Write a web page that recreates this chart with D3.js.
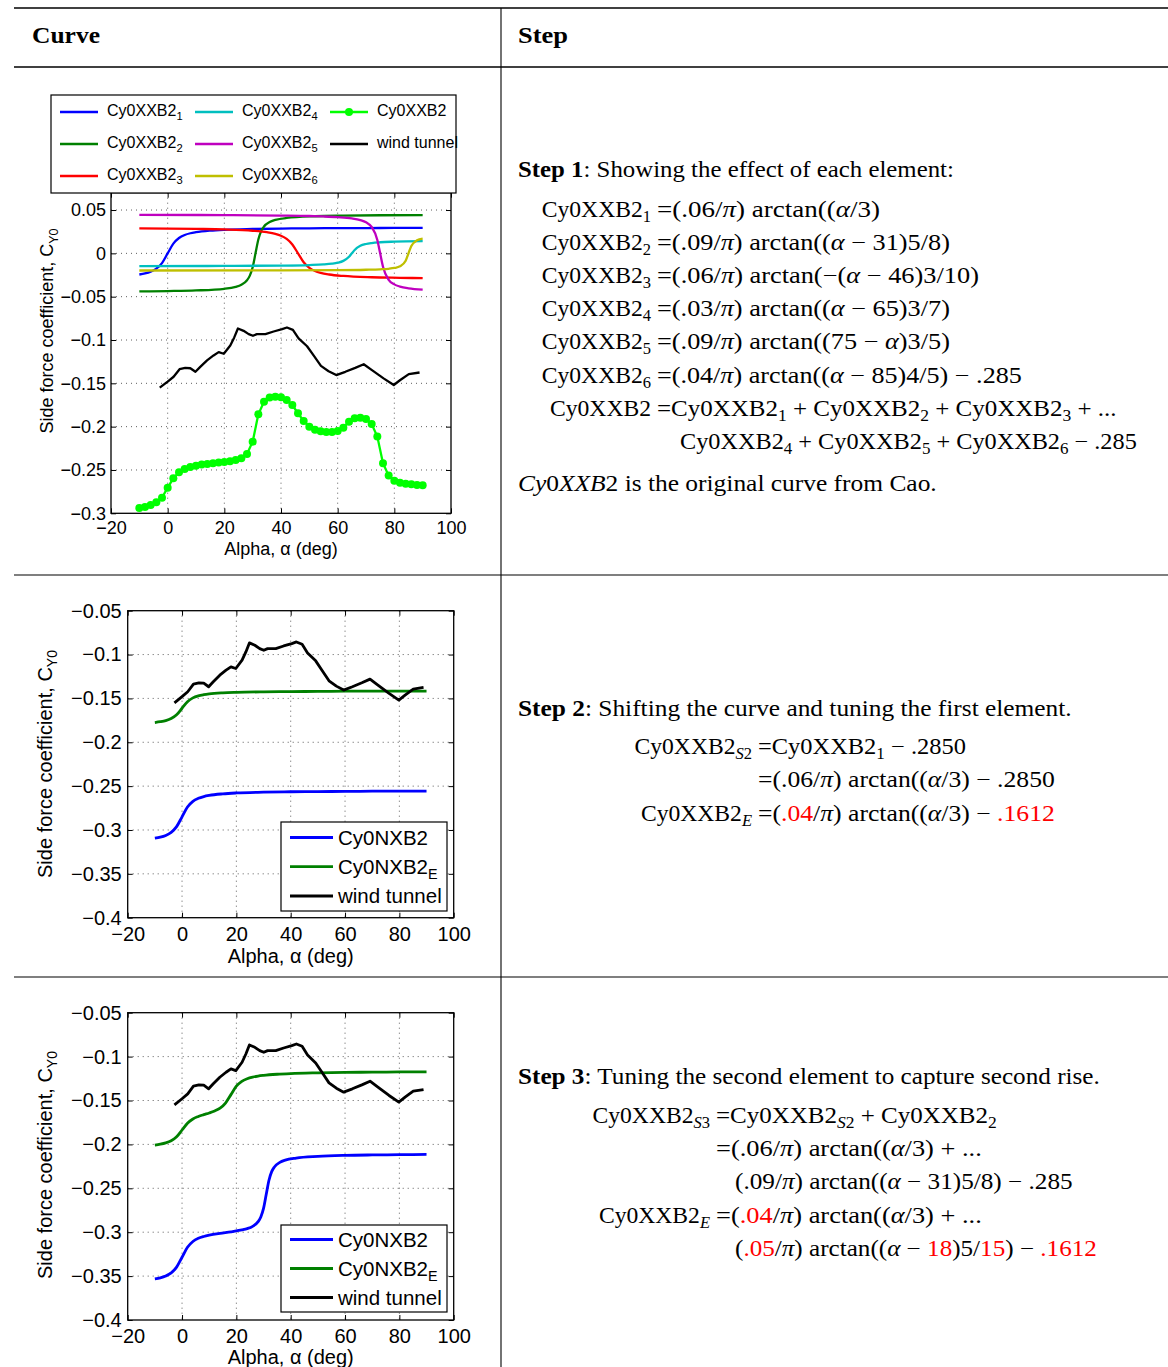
<!DOCTYPE html>
<html>
<head>
<meta charset="utf-8">
<script src="https://cdn.jsdelivr.net/npm/d3@7"></script>
<style>
  body { margin: 0; background: #fff; }
  .grid { stroke: #333; stroke-width: 0.8; stroke-dasharray: 1 4; }
</style>
</head>
<body>
<div id="viz"></div>
<script>
// ---- data ----
const xTicks = [-20, 0, 20, 40, 60, 80, 100];
const xTickLabels = ["\u221220", "0", "20", "40", "60", "80", "100"];
const yTicksStep1 = [0.05, 0, -0.05, -0.1, -0.15, -0.2, -0.25, -0.3];
const yTickLabelsStep1 = ["0.05", "0", "\u22120.05", "\u22120.1", "\u22120.15", "\u22120.2", "\u22120.25", "\u22120.3"];
const yTicksFit = [-0.05, -0.1, -0.15, -0.2, -0.25, -0.3, -0.35, -0.4];
const yTickLabelsFit = ["\u22120.05", "\u22120.1", "\u22120.15", "\u22120.2", "\u22120.25", "\u22120.3", "\u22120.35", "\u22120.4"];

// step 1 elements, [alpha, Cy]
const cy0xxb2_1 = [[-10,-0.0244],[-8,-0.0232],[-6,-0.0212],[-4,-0.0177],[-2,-0.0112],[0,0],[2,0.0112],[4,0.0177],[6,0.0212],[8,0.0232],[10,0.0244],[15,0.0262],[20,0.0272],[30,0.0281],[40,0.0286],[50,0.0289],[60,0.0291],[70,0.0292],[80,0.0293],[90,0.0294]];
const cy0xxb2_2 = [[-10,-0.0439],[0,-0.0435],[10,-0.0428],[20,-0.0409],[24,-0.0386],[26,-0.0361],[28,-0.0310],[29,-0.0257],[30,-0.0160],[31,0],[32,0.0160],[33,0.0257],[34,0.0310],[36,0.0361],[38,0.0386],[42,0.0409],[52,0.0428],[62,0.0435],[75,0.0440],[90,0.0442]];
const cy0xxb2_3 = [[-10,0.0289],[10,0.0282],[20,0.0276],[30,0.0261],[35,0.0244],[38,0.0225],[40,0.0203],[42,0.0167],[44,0.0103],[46,0],[48,-0.0103],[50,-0.0167],[52,-0.0203],[54,-0.0225],[57,-0.0244],[62,-0.0261],[72,-0.0276],[82,-0.0282],[90,-0.0286]];
const cy0xxb2_4 = [[-10,-0.0147],[20,-0.0145],[40,-0.0141],[50,-0.0135],[55,-0.0128],[58,-0.0119],[60,-0.0108],[62,-0.0087],[64,-0.0039],[65,0],[66,0.0039],[68,0.0087],[70,0.0108],[72,0.0119],[75,0.0128],[80,0.0135],[90,0.0141]];
const cy0xxb2_5 = [[-10,0.0444],[20,0.0441],[40,0.0436],[50,0.0431],[55,0.0426],[60,0.0418],[65,0.0403],[68,0.0383],[70,0.0358],[72,0.0305],[74,0.0155],[75,0],[76,-0.0155],[78,-0.0305],[80,-0.0358],[82,-0.0383],[85,-0.0403],[90,-0.0418]];
const cy0xxb2_6 = [[-10,-0.0198],[40,-0.0197],[60,-0.0194],[70,-0.0189],[75,-0.0184],[78,-0.0178],[80,-0.0169],[82,-0.0150],[84,-0.0086],[85,0],[86,0.0086],[88,0.0150],[90,0.0169]];
const cy0xxb2 = [[-10,-0.294],[-8,-0.2927],[-6,-0.2904],[-4,-0.2873],[-2,-0.282],[0,-0.2704],[2,-0.2596],[4,-0.2527],[6,-0.2488],[8,-0.2465],[10,-0.245],[12,-0.2438],[14,-0.2431],[16,-0.2423],[18,-0.2415],[20,-0.2408],[22,-0.24],[24,-0.2385],[26,-0.2365],[28,-0.2315],[30,-0.2173],[32,-0.1858],[34,-0.1712],[36,-0.1665],[38,-0.1654],[40,-0.1662],[42,-0.1692],[44,-0.175],[46,-0.1846],[48,-0.1935],[50,-0.2],[52,-0.2035],[54,-0.2054],[56,-0.2062],[58,-0.2062],[60,-0.205],[62,-0.2012],[64,-0.1942],[66,-0.1904],[68,-0.1896],[70,-0.1912],[72,-0.1969],[74,-0.2115],[76,-0.2423],[78,-0.2565],[80,-0.2623],[82,-0.2646],[84,-0.2658],[86,-0.2665],[88,-0.2673],[90,-0.2677]];
const windTunnel = [[-2.8,-0.155],[0,-0.148],[2.1,-0.1424],[4.2,-0.1337],[6.2,-0.1322],[8,-0.1326],[9.8,-0.1367],[11.5,-0.131],[13.9,-0.1235],[16.2,-0.1178],[18,-0.114],[19.8,-0.1159],[22.1,-0.1064],[23.5,-0.097],[24.8,-0.0867],[26.8,-0.0894],[28.6,-0.0932],[30.1,-0.0951],[31.5,-0.0932],[34.5,-0.0932],[37.4,-0.0902],[40.4,-0.0875],[42.1,-0.0856],[44.2,-0.0883],[46.2,-0.0981],[49.2,-0.1072],[51.5,-0.1178],[54.1,-0.1299],[56.8,-0.136],[59.5,-0.1405],[62.7,-0.1367],[66.2,-0.1322],[69.2,-0.128],[72.1,-0.1348],[76.2,-0.1443],[79.8,-0.1519],[82.1,-0.1462],[85.1,-0.1394],[88.9,-0.1375]];

// step 2
const cy0nxb2Step2 = [[-10,-0.3094],[-8,-0.3082],[-6,-0.3062],[-4,-0.3027],[-2,-0.2962],[0,-0.285],[2,-0.2738],[4,-0.2673],[6,-0.2639],[8,-0.2619],[10,-0.2606],[15,-0.2588],[20,-0.2578],[30,-0.2569],[40,-0.2564],[50,-0.2562],[60,-0.256],[70,-0.2558],[80,-0.2557],[90,-0.2556]];
const cy0nxb2EStep2 = [[-10,-0.1775],[-8,-0.1766],[-6,-0.1753],[-4,-0.173],[-2,-0.1687],[0,-0.1612],[2,-0.1537],[4,-0.1494],[6,-0.1471],[8,-0.1458],[10,-0.1449],[15,-0.1437],[20,-0.1431],[30,-0.1425],[40,-0.1422],[50,-0.142],[60,-0.1418],[70,-0.1417],[80,-0.1417],[90,-0.1416]];

// step 3
const cy0nxb2Step3 = [[-10,-0.3533],[-8,-0.352],[-6,-0.3499],[-4,-0.3464],[-2,-0.3398],[0,-0.3285],[2,-0.3172],[4,-0.3106],[6,-0.307],[8,-0.3049],[10,-0.3034],[14,-0.3013],[18,-0.2996],[22,-0.2974],[24,-0.2959],[26,-0.2933],[28,-0.288],[29,-0.2826],[30,-0.2729],[31,-0.2568],[32,-0.2408],[33,-0.231],[34,-0.2257],[36,-0.2205],[38,-0.2179],[42,-0.2155],[50,-0.2136],[60,-0.2125],[70,-0.212],[80,-0.2117],[90,-0.2114]];
const cy0nxb2EStep3 = [[-10,-0.2008],[-8,-0.1998],[-6,-0.1983],[-4,-0.1958],[-2,-0.1913],[0,-0.1836],[2,-0.1758],[4,-0.171],[6,-0.1682],[8,-0.1661],[10,-0.1642],[12,-0.1619],[14,-0.1587],[16,-0.1529],[18,-0.1433],[20,-0.1337],[22,-0.1282],[24,-0.1252],[26,-0.1234],[28,-0.1222],[30,-0.1214],[35,-0.1201],[40,-0.1193],[50,-0.1185],[60,-0.118],[70,-0.1177],[80,-0.1175],[90,-0.1173]];

const SANS = "'Liberation Sans', Arial, Helvetica, sans-serif";
const SERIF = "'Liberation Serif', 'Times New Roman', serif";
const FS = 22.5;
const LHS_SCALE = 1.05;

const svg = d3.select("#viz").append("svg")
  .attr("width", 1168).attr("height", 1367)
  .style("display", "block");

// ---- table rules ----
[[8, 1.6], [67, 1.3], [575, 1.1], [977, 1.1]].forEach(([y, w]) => {
  svg.append("line").attr("x1", 14).attr("x2", 1168).attr("y1", y).attr("y2", y)
    .attr("stroke", "#000").attr("stroke-width", w);
});
svg.append("line").attr("x1", 501).attr("x2", 501).attr("y1", 8).attr("y2", 1367)
  .attr("stroke", "#000").attr("stroke-width", 1.1);

// ---- rich text helper: _{..} subscript, {r|..} red, {i|..} italic, {b|..} bold ----
function addRich(t, str, fs, mathItalic) {
  let cur = 0;
  const subDy = fs * (mathItalic ? 0.2 : 0.27);
  str.split(/(\{[rib]\|[^}]*\}|_\{[^}]*\}|[απ])/).filter(p => p).forEach(p => {
    if (p.startsWith("_{")) {
      const s = t.append("tspan").attr("font-size", fs * 0.7).attr("dy", subDy - cur);
      cur = subDy;
      for (const ch of p.slice(2, -1)) {
        const c = s.append("tspan").text(ch);
        if (mathItalic && /[A-Za-z]/.test(ch)) c.attr("font-style", "italic");
      }
      return;
    }
    const s = t.append("tspan");
    if (cur) { s.attr("dy", -cur); cur = 0; }
    if (p.startsWith("{")) {
      const k = p[1];
      if (k === "r") s.attr("fill", "#ff0000");
      if (k === "i") s.attr("font-style", "italic");
      if (k === "b") s.attr("font-weight", "bold");
      s.text(p.slice(3, -1));
    } else if (mathItalic && (p === "α" || p === "π")) {
      s.attr("font-style", "italic").text(p);
    } else {
      s.text(p);
    }
  });
}

// serif line; stretched to end at x1 when given, otherwise right-aligned at x with a fixed stretch
function mathText(x, y, str, x1) {
  const g = svg.append("g");
  const t = g.append("text")
    .attr("font-family", SERIF).attr("font-size", FS)
    .attr("text-anchor", x1 ? "start" : "end")
    .style("white-space", "pre");
  addRich(t, str, FS, true);
  const s = x1 ? (x1 - x) / t.node().getComputedTextLength() : LHS_SCALE;
  g.attr("transform", `translate(${x},${y}) scale(${s},1)`);
}

// header
mathText(32, 43, "{b|Curve}", 100);
mathText(518, 43, "{b|Step}", 568);

// ---- step texts ----
function block(eqX, rows) {
  rows.forEach(r => {
    if (r.lhs) mathText(eqX - 6, r.y, r.lhs);
    mathText(r.x0 || eqX, r.y, r.rhs, r.x1);
  });
}

mathText(518, 177, "{b|Step 1}: Showing the effect of each element:", 954);
block(657, [
  { y: 217, lhs: "Cy0XXB2_{1}", rhs: "=(.06/π) arctan((α/3)", x1: 880 },
  { y: 250, lhs: "Cy0XXB2_{2}", rhs: "=(.09/π) arctan((α \u2212 31)5/8)", x1: 950 },
  { y: 283, lhs: "Cy0XXB2_{3}", rhs: "=(.06/π) arctan(\u2212(α \u2212 46)3/10)", x1: 979 },
  { y: 316, lhs: "Cy0XXB2_{4}", rhs: "=(.03/π) arctan((α \u2212 65)3/7)", x1: 950 },
  { y: 349, lhs: "Cy0XXB2_{5}", rhs: "=(.09/π) arctan((75 \u2212 α)3/5)", x1: 950 },
  { y: 383, lhs: "Cy0XXB2_{6}", rhs: "=(.04/π) arctan((α \u2212 85)4/5) \u2212 .285", x1: 1022 },
  { y: 416, lhs: "Cy0XXB2", rhs: "=Cy0XXB2_{1} + Cy0XXB2_{2} + Cy0XXB2_{3} + ...", x1: 1117 },
  { y: 449, x0: 680, rhs: "Cy0XXB2_{4} + Cy0XXB2_{5} + Cy0XXB2_{6} \u2212 .285", x1: 1137 }
]);
mathText(518, 491, "{i|Cy}0{i|XXB}2 is the original curve from Cao.", 937);

mathText(518, 716, "{b|Step 2}: Shifting the curve and tuning the first element.", 1072);
block(758, [
  { y: 754, lhs: "Cy0XXB2_{S2}", rhs: "=Cy0XXB2_{1} \u2212 .2850", x1: 966 },
  { y: 787, rhs: "=(.06/π) arctan((α/3) \u2212 .2850", x1: 1055 },
  { y: 821, lhs: "Cy0XXB2_{E}", rhs: "=({r|.04}/π) arctan((α/3) \u2212 {r|.1612}", x1: 1055 }
]);

mathText(518, 1084, "{b|Step 3}: Tuning the second element to capture second rise.", 1100);
block(716, [
  { y: 1123, lhs: "Cy0XXB2_{S3}", rhs: "=Cy0XXB2_{S2} + Cy0XXB2_{2}", x1: 997 },
  { y: 1156, rhs: "=(.06/π) arctan((α/3) + ...", x1: 982 },
  { y: 1189, x0: 735, rhs: "(.09/π) arctan((α \u2212 31)5/8) \u2212 .285", x1: 1073 },
  { y: 1223, lhs: "Cy0XXB2_{E}", rhs: "=({r|.04}/π) arctan((α/3) + ...", x1: 982 },
  { y: 1256, x0: 735, rhs: "({r|.05}/π) arctan((α \u2212 {r|18})5/{r|15}) \u2212 {r|.1612}", x1: 1097 }
]);

// ---- charts ----
function drawChart(cfg) {
  const g = svg.append("g");
  const x = d3.scaleLinear().domain([-20, 100]).range([cfg.left, cfg.right]);
  const y = d3.scaleLinear().domain(cfg.yDomain).range([cfg.bottom, cfg.top]);
  const fs = cfg.fontSize;

  // dotted grid
  g.append("g").selectAll("line").data(xTicks.slice(1, -1)).join("line")
    .attr("class", "grid")
    .attr("x1", d => x(d)).attr("x2", d => x(d)).attr("y1", cfg.top).attr("y2", cfg.bottom);
  g.append("g").selectAll("line").data(cfg.yTicks.filter(d => y(d) > cfg.top + 1 && y(d) < cfg.bottom - 1)).join("line")
    .attr("class", "grid")
    .attr("y1", d => y(d)).attr("y2", d => y(d)).attr("x1", cfg.left).attr("x2", cfg.right);

  // curves
  const line = d3.line().x(d => x(d[0])).y(d => y(d[1]));
  cfg.series.forEach(s => {
    g.append("path").datum(s.data)
      .attr("d", line.curve(s.smooth ? d3.curveMonotoneX : d3.curveLinear))
      .attr("fill", "none").attr("stroke", s.color)
      .attr("stroke-width", cfg.lineWidth).attr("stroke-linejoin", "round");
    if (s.marker) {
      g.append("g").selectAll("circle").data(s.data).join("circle")
        .attr("cx", d => x(d[0])).attr("cy", d => y(d[1])).attr("r", 4)
        .attr("fill", s.color);
    }
  });

  // axes with inward ticks on all sides
  const style = sel => {
    sel.select(".domain").remove();
    sel.selectAll(".tick line").attr("stroke", "#000").attr("stroke-width", 1);
    sel.attr("font-size", fs).attr("font-family", SANS);
    sel.selectAll("text").attr("fill", "#000");
  };
  g.append("g").attr("transform", `translate(0,${cfg.bottom})`)
    .call(d3.axisBottom(x).tickValues(xTicks).tickFormat((d, i) => xTickLabels[i]).tickSize(-5).tickPadding(cfg.xPad))
    .call(style);
  g.append("g").attr("transform", `translate(0,${cfg.top})`)
    .call(d3.axisTop(x).tickValues(xTicks).tickFormat("").tickSize(-5))
    .call(style);
  g.append("g").attr("transform", `translate(${cfg.left},0)`)
    .call(d3.axisLeft(y).tickValues(cfg.yTicks).tickFormat((d, i) => cfg.yLabels[i]).tickSize(-5).tickPadding(cfg.yPad))
    .call(style);
  g.append("g").attr("transform", `translate(${cfg.right},0)`)
    .call(d3.axisRight(y).tickValues(cfg.yTicks).tickFormat("").tickSize(-5))
    .call(style);

  g.append("rect").attr("x", cfg.left).attr("y", cfg.top)
    .attr("width", cfg.right - cfg.left).attr("height", cfg.bottom - cfg.top)
    .attr("fill", "none").attr("stroke", "#000").attr("stroke-width", 1.3);

  // axis titles
  g.append("text").attr("x", (cfg.left + cfg.right) / 2).attr("y", cfg.xTitleY)
    .attr("text-anchor", "middle").attr("font-family", SANS).attr("font-size", fs)
    .text("Alpha, \u03b1 (deg)");
  const yt = g.append("text")
    .attr("transform", `translate(${cfg.yTitleX},${cfg.yTitleY}) rotate(-90)`)
    .attr("text-anchor", "middle").attr("font-family", SANS).attr("font-size", fs);
  addRich(yt, "Side force coefficient, C_{Y0}", fs, false);

  // legend
  const L = cfg.legend;
  g.append("rect").attr("x", L.x0).attr("y", L.y0).attr("width", L.x1 - L.x0).attr("height", L.y1 - L.y0)
    .attr("fill", "#fff").attr("stroke", "#000").attr("stroke-width", 1.2);
  cfg.series.forEach((s, i) => {
    const col = Math.floor(i / L.rows), row = i % L.rows;
    const lx = L.lineX[col], ly = L.rowY[row];
    g.append("line").attr("x1", lx).attr("x2", lx + L.lineLen).attr("y1", ly).attr("y2", ly)
      .attr("stroke", s.color).attr("stroke-width", cfg.lineWidth);
    if (s.marker) g.append("circle").attr("cx", lx + L.lineLen / 2).attr("cy", ly).attr("r", 4).attr("fill", s.color);
    const t = g.append("text").attr("x", lx + L.textGap).attr("y", ly + L.baseline)
      .attr("font-family", SANS).attr("font-size", L.fontSize);
    addRich(t, s.name, L.fontSize, false);
  });
}

drawChart({
  left: 111, right: 451, top: 192.7, bottom: 513.3,
  yDomain: [-0.3, 0.07], yTicks: yTicksStep1, yLabels: yTickLabelsStep1,
  fontSize: 18, xPad: 8, yPad: 5, lineWidth: 2.3,
  xTitleY: 555, yTitleX: 53, yTitleY: 331,
  series: [
    { name: "Cy0XXB2_{1}", color: "#0000ff", data: cy0xxb2_1, smooth: true },
    { name: "Cy0XXB2_{2}", color: "#008000", data: cy0xxb2_2, smooth: true },
    { name: "Cy0XXB2_{3}", color: "#ff0000", data: cy0xxb2_3, smooth: true },
    { name: "Cy0XXB2_{4}", color: "#00bfbf", data: cy0xxb2_4, smooth: true },
    { name: "Cy0XXB2_{5}", color: "#bf00bf", data: cy0xxb2_5, smooth: true },
    { name: "Cy0XXB2_{6}", color: "#bfbf00", data: cy0xxb2_6, smooth: true },
    { name: "Cy0XXB2", color: "#00ff00", data: cy0xxb2, marker: true },
    { name: "wind tunnel", color: "#000000", data: windTunnel }
  ],
  legend: { x0: 51, y0: 95, x1: 456, y1: 193, rows: 3, lineX: [60, 195, 330], lineLen: 38,
            textGap: 47, rowY: [112, 144, 176], baseline: 4, fontSize: 16 }
});

drawChart({
  left: 127.7, right: 453.7, top: 610.7, bottom: 917.7,
  yDomain: [-0.4, -0.05], yTicks: yTicksFit, yLabels: yTickLabelsFit,
  fontSize: 20, xPad: 9, yPad: 6, lineWidth: 2.8,
  xTitleY: 963, yTitleX: 52, yTitleY: 764,
  series: [
    { name: "Cy0NXB2", color: "#0000ff", data: cy0nxb2Step2, smooth: true },
    { name: "Cy0NXB2_{E}", color: "#008000", data: cy0nxb2EStep2, smooth: true },
    { name: "wind tunnel", color: "#000000", data: windTunnel }
  ],
  legend: { x0: 281, y0: 822, x1: 447, y1: 911, rows: 3, lineX: [290], lineLen: 43,
            textGap: 48, rowY: [837.5, 866.7, 896], baseline: 7, fontSize: 20.5 }
});

drawChart({
  left: 127.7, right: 453.7, top: 1012.7, bottom: 1320,
  yDomain: [-0.4, -0.05], yTicks: yTicksFit, yLabels: yTickLabelsFit,
  fontSize: 20, xPad: 9, yPad: 6, lineWidth: 2.8,
  xTitleY: 1364, yTitleX: 52, yTitleY: 1165,
  series: [
    { name: "Cy0NXB2", color: "#0000ff", data: cy0nxb2Step3, smooth: true },
    { name: "Cy0NXB2_{E}", color: "#008000", data: cy0nxb2EStep3, smooth: true },
    { name: "wind tunnel", color: "#000000", data: windTunnel }
  ],
  legend: { x0: 281, y0: 1225, x1: 447, y1: 1312, rows: 3, lineX: [290], lineLen: 43,
            textGap: 48, rowY: [1239.5, 1268.5, 1297.5], baseline: 7, fontSize: 20.5 }
});
</script>
</body>
</html>
